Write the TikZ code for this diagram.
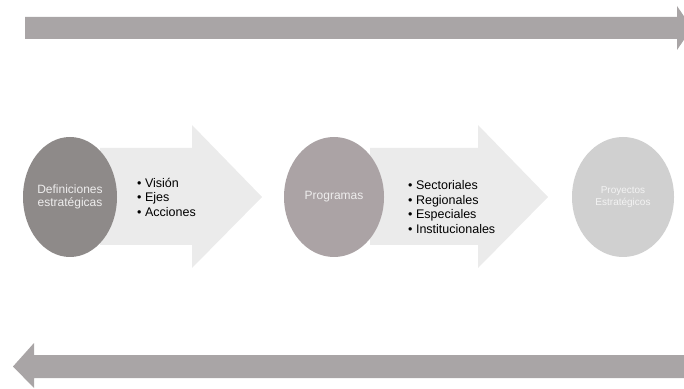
\documentclass[tikz,border=0pt]{standalone}
\usepackage{fontspec}
\setmainfont{Liberation Sans}
\usetikzlibrary{shapes.geometric}

\definecolor{barra}{HTML}{A9A5A6}
\definecolor{flecha}{HTML}{EBEBEB}
\definecolor{etapaA}{HTML}{8E8A89}
\definecolor{etapaB}{HTML}{ABA3A5}
\definecolor{etapaC}{HTML}{D0D0D0}

\tikzset{
	etapa/.style={ellipse, draw=none, inner sep=0pt, minimum width=96pt, minimum height=120pt, align=center},
	lista/.style={anchor=west, align=left, font=\fontsize{12.5}{14.5}\selectfont, text=black, inner sep=0pt}
}

\begin{document}
\begin{tikzpicture}[x=1pt, y=1pt]
	\useasboundingbox (0,0) rectangle (684,388);
	% linea superior y linea inferior
	\fill[barra] (25,349) -- (677,349) -- (677,338) -- (692,360) -- (677,382) -- (677,371) -- (25,371) -- cycle;
	\fill[barra] (692,10) -- (34,10) -- (34,0) -- (13,21.5) -- (34,45) -- (34,33) -- (692,33) -- cycle;
	% flechas grandes
	\fill[flecha] (100,143) -- (192,143) -- (192,120) -- (262,191) -- (192,263) -- (192,240) -- (100,240) -- cycle;
	\fill[flecha] (370,143) -- (478,143) -- (478,120) -- (548,191) -- (478,263) -- (478,240) -- (370,240) -- cycle;
	% etapas
	\node[etapa, fill=etapaA, minimum width=94pt, text=white!85!etapaA, font=\fontsize{12}{13}\selectfont] (def) at (70,191) {Definiciones\\estratégicas};
	\node[etapa, fill=etapaB, minimum width=100pt, text=white!80!etapaB, font=\fontsize{12}{13}\selectfont] (prog) at (334,191) {Programas};
	\node[etapa, fill=etapaC, minimum width=102pt, text=white!75!etapaC, font=\fontsize{10}{12}\selectfont] (proy) at (623,191) {Proyectos\\Estratégicos};
	% listas
	\node[lista] (ejes) at (137,191) {• Visión\\• Ejes\\• Acciones};
	\node[lista] (tipos) at (408,181) {• Sectoriales\\• Regionales\\• Especiales\\• Institucionales};
\end{tikzpicture}
\end{document}
